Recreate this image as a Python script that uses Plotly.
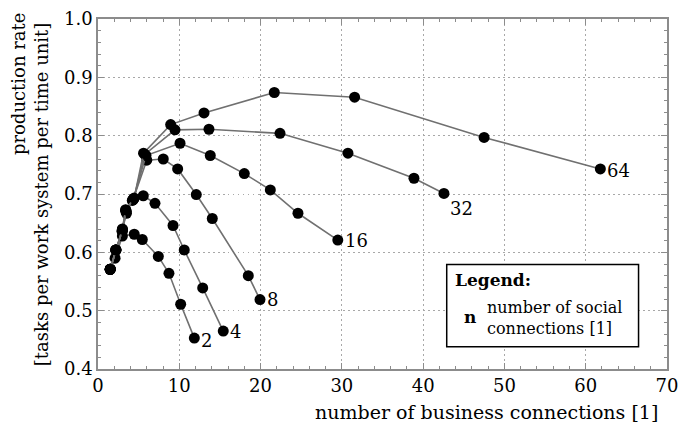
import plotly.graph_objects as go

# social connections (series labels)
series_n = ["2", "4", "8", "16", "32", "64"]

# number of business connections (x) and production rate (y) per series
x2 = [1.5, 2.1, 3.0, 4.46, 5.45, 7.42, 8.73, 10.17, 11.85]
y2 = [0.571, 0.590, 0.628, 0.631, 0.622, 0.593, 0.564, 0.511, 0.453]

x4 = [1.5, 2.2, 2.95, 3.5, 4.22, 5.57, 7.01, 9.23, 10.61, 12.88, 15.41]
y4 = [0.571, 0.604, 0.636, 0.667, 0.689, 0.697, 0.684, 0.646, 0.604, 0.539, 0.465]

x8 = [1.5, 2.2, 3.0, 3.45, 4.3, 6.0, 8.03, 9.80, 12.09, 14.06, 18.49, 19.93]
y8 = [0.571, 0.604, 0.637, 0.670, 0.690, 0.758, 0.760, 0.743, 0.699, 0.658, 0.560, 0.519]

x16 = [1.5, 2.2, 3.0, 3.45, 4.35, 5.9, 10.09, 13.81, 18.0, 21.2, 24.6, 29.5]
y16 = [0.571, 0.604, 0.638, 0.671, 0.691, 0.766, 0.787, 0.766, 0.735, 0.707, 0.667, 0.621]

x32 = [1.5, 2.2, 3.0, 3.4, 4.4, 5.75, 9.47, 13.65, 22.39, 30.75, 38.87, 42.56]
y32 = [0.571, 0.604, 0.639, 0.672, 0.692, 0.768, 0.810, 0.811, 0.804, 0.770, 0.727, 0.701]

x64 = [1.5, 2.2, 3.0, 3.4, 4.45, 5.6, 8.94, 13.04, 21.69, 31.57, 47.5, 61.8]
y64 = [0.571, 0.604, 0.640, 0.673, 0.693, 0.770, 0.819, 0.839, 0.874, 0.866, 0.797, 0.743]

xs = [x2, x4, x8, x16, x32, x64]
ys = [y2, y4, y8, y16, y32, y64]

x_ticks = [0, 10, 20, 30, 40, 50, 60, 70]
y_ticks = [0.4, 0.5, 0.6, 0.7, 0.8, 0.9, 1.0]

FONT = "DejaVu Serif"
FS = 18
FRAME = "#8c8c8c"

fig = go.Figure()
for n, xv, yv in zip(series_n, xs, ys):
    fig.add_trace(go.Scatter(
        x=xv, y=yv, mode="lines+markers", name=n,
        line=dict(color="#707070", width=1.6),
        marker=dict(color="black", size=11),
        showlegend=False, cliponaxis=False,
    ))

# end labels
label_offsets = {"2": (5, -2), "4": (5, 0), "8": (5, 0), "16": (5, 0), "32": (4, -15), "64": (5, -2)}
for n, xv, yv in zip(series_n, xs, ys):
    dx, dy = label_offsets[n]
    fig.add_annotation(x=xv[-1], y=yv[-1], text=n, showarrow=False,
                       xanchor="left", yanchor="middle", xshift=dx, yshift=dy,
                       font=dict(family=FONT, size=FS, color="black"))

axis_common = dict(
    showline=True, linecolor=FRAME, linewidth=1.6, mirror="ticks",
    ticks="inside", ticklen=6, tickcolor=FRAME, tickwidth=1,
    showgrid=True, gridcolor="#a8a8a8", griddash="1.5px,3.5px", gridwidth=1.3,
    zeroline=False, automargin=False, ticklabeloverflow="allow",
    tickfont=dict(family=FONT, size=FS, color="black"),
)

fig.update_xaxes(range=[0, 70], tickvals=x_ticks, ticktext=[str(v) for v in x_ticks],
                 minor=dict(dtick=2, ticks="inside", ticklen=3, tickcolor=FRAME, showgrid=False),
                 **axis_common)
fig.update_yaxes(range=[0.4, 1.0], tickvals=y_ticks, ticktext=[f"{v:.1f}" for v in y_ticks],
                 minor=dict(dtick=0.02, ticks="inside", ticklen=3, tickcolor=FRAME, showgrid=False),
                 **axis_common)

# axis titles
fig.add_annotation(xref="paper", yref="paper", x=0.988, y=-0.087, xanchor="right", yanchor="top",
                   text="number of business connections [1]", showarrow=False,
                   font=dict(family=FONT, size=19, color="black"))
fig.add_annotation(xref="paper", yref="paper", x=-0.14, y=1.025, xanchor="center", yanchor="top",
                   text="production rate", textangle=-90, showarrow=False,
                   font=dict(family=FONT, size=FS, color="black"))
fig.add_annotation(xref="paper", yref="paper", x=-0.1, y=0.997, xanchor="center", yanchor="top",
                   text="[tasks per work system per time unit]", textangle=-90, showarrow=False,
                   font=dict(family=FONT, size=FS, color="black"))

# legend box
fig.add_shape(type="rect", xref="x", yref="y", x0=42.9, x1=66.5, y0=0.438, y1=0.579,
              line=dict(color="black", width=1.5), fillcolor="white")
fig.add_annotation(xref="x", yref="y", x=43.7, y=0.552, text="<b>Legend:</b>", showarrow=False,
                   xanchor="left", yanchor="middle", font=dict(family=FONT, size=FS - 1, color="black"))
fig.add_annotation(xref="x", yref="y", x=44.8, y=0.489, text="<b>n</b>", showarrow=False,
                   xanchor="left", yanchor="middle", font=dict(family=FONT, size=FS - 1, color="black"))
fig.add_annotation(xref="x", yref="y", x=47.6, y=0.487, text="number of social<br>connections [1]",
                   showarrow=False, xanchor="left", yanchor="middle", align="left",
                   font=dict(family=FONT, size=FS - 2, color="black"))

fig.update_layout(
    width=678, height=428,
    margin=dict(l=98, r=11, t=19, b=59),
    paper_bgcolor="white", plot_bgcolor="white",
)

fig.write_html("out.html", config={"displayModeBar": False},
               post_script="document.body.style.margin='0px';document.body.style.overflow='hidden';")
